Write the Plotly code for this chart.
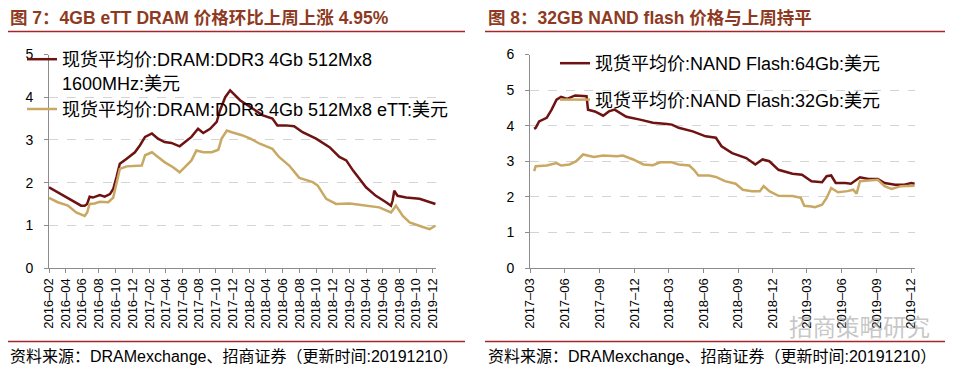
import plotly.graph_objects as go

# ---------------- data: Figure 7 (DRAM) ----------------
dram_1600_dates = ["2016-02-01","2016-03-04","2016-03-28","2016-05-04","2016-05-28","2016-06-10",
    "2016-06-19","2016-06-28","2016-07-10","2016-08-04","2016-08-22","2016-09-10","2016-09-22",
    "2016-10-04","2016-10-16","2016-11-10","2016-12-10","2016-12-28","2017-01-16","2017-02-10",
    "2017-03-04","2017-03-28","2017-04-22","2017-05-22","2017-06-10","2017-07-04","2017-07-28",
    "2017-08-16","2017-09-10","2017-10-04","2017-10-16","2017-11-04","2017-11-22","2017-12-28",
    "2018-02-13","2018-03-19","2018-04-25","2018-05-13","2018-06-13","2018-07-13","2018-08-13",
    "2018-10-01","2018-11-19","2018-12-25","2019-01-19","2019-02-13","2019-04-01","2019-05-07",
    "2019-06-13","2019-07-01","2019-07-07","2019-07-13","2019-07-25","2019-08-25","2019-10-13",
    "2019-11-19","2019-12-10"]
dram_1600_vals = [1.89,1.77,1.67,1.55,1.46,1.46,1.50,1.67,1.65,1.71,1.67,1.73,1.85,2.13,2.44,2.56,
    2.71,2.87,3.07,3.15,3.03,2.95,2.93,2.85,2.95,3.07,3.26,3.16,3.26,3.42,3.69,4.00,4.16,3.93,3.73,
    3.58,3.50,3.34,3.34,3.32,3.18,3.03,2.83,2.60,2.52,2.28,1.89,1.69,1.54,1.46,1.58,1.81,1.69,1.65,
    1.62,1.55,1.50]

dram_ett_dates = ["2016-02-01","2016-03-04","2016-04-10","2016-05-10","2016-06-10","2016-06-19",
    "2016-06-28","2016-07-16","2016-08-04","2016-09-04","2016-09-22","2016-10-04","2016-10-16",
    "2016-11-10","2016-12-10","2017-01-04","2017-01-16","2017-02-10","2017-03-04","2017-03-28",
    "2017-04-28","2017-05-22","2017-06-10","2017-07-04","2017-07-22","2017-08-16","2017-09-16",
    "2017-10-10","2017-10-22","2017-11-10","2017-11-28","2018-01-04","2018-02-04","2018-03-10",
    "2018-04-25","2018-05-19","2018-06-25","2018-08-01","2018-09-19","2018-10-07","2018-11-07",
    "2018-12-13","2019-02-01","2019-04-01","2019-05-19","2019-07-01","2019-07-19","2019-08-13",
    "2019-09-07","2019-10-25","2019-11-19","2019-12-10"]
dram_ett_vals = [1.64,1.54,1.46,1.30,1.22,1.30,1.50,1.51,1.55,1.54,1.65,1.97,2.32,2.38,2.40,2.40,
    2.64,2.71,2.60,2.48,2.36,2.24,2.36,2.52,2.75,2.71,2.71,2.77,3.03,3.22,3.18,3.11,3.03,2.91,2.79,
    2.60,2.40,2.11,2.01,1.93,1.62,1.50,1.51,1.47,1.42,1.30,1.46,1.22,1.07,0.96,0.91,0.99]

# ---------------- data: Figure 8 (NAND) ----------------
nand64_dates = ["2017-03-12","2017-03-16","2017-03-25","2017-04-14","2017-04-27","2017-05-10",
    "2017-05-22","2017-06-07","2017-06-28","2017-07-28","2017-08-01","2017-08-19","2017-09-10",
    "2017-09-25","2017-10-10","2017-11-10","2017-12-16","2018-01-19","2018-02-25","2018-03-10",
    "2018-03-28","2018-05-04","2018-06-07","2018-07-04","2018-07-19","2018-08-16","2018-09-22",
    "2018-10-16","2018-11-04","2018-11-22","2018-12-16","2019-01-22","2019-02-16","2019-03-13",
    "2019-04-10","2019-04-22","2019-05-04","2019-05-16","2019-06-10","2019-06-25","2019-07-19",
    "2019-08-10","2019-09-04","2019-09-22","2019-10-19","2019-11-13","2019-12-01","2019-12-10"]
nand64_vals = [3.91,3.94,4.12,4.22,4.45,4.73,4.81,4.75,4.85,4.83,4.45,4.40,4.28,4.40,4.45,4.25,
    4.17,4.08,4.05,4.03,3.94,3.84,3.70,3.66,3.42,3.23,3.09,2.91,3.05,3.00,2.76,2.65,2.62,2.44,2.41,
    2.58,2.60,2.39,2.39,2.37,2.55,2.50,2.50,2.39,2.34,2.34,2.39,2.37]

nand32_dates = ["2017-03-12","2017-03-16","2017-04-14","2017-05-10","2017-05-22","2017-06-13",
    "2017-07-01","2017-07-19","2017-08-16","2017-09-10","2017-10-16","2017-11-01","2017-11-28",
    "2017-12-25","2018-01-19","2018-02-07","2018-03-10","2018-03-28","2018-04-25","2018-05-07",
    "2018-05-19","2018-06-16","2018-07-04","2018-07-28","2018-08-25","2018-09-13","2018-10-07",
    "2018-10-28","2018-11-07","2018-11-22","2018-12-16","2019-01-22","2019-02-13","2019-02-22",
    "2019-03-13","2019-03-22","2019-04-10","2019-04-22","2019-05-04","2019-05-22","2019-06-16",
    "2019-07-01","2019-07-10","2019-07-19","2019-08-10","2019-09-04","2019-09-22","2019-10-10",
    "2019-11-04","2019-12-01","2019-12-10"]
nand32_vals = [2.72,2.86,2.88,2.95,2.88,2.91,3.00,3.19,3.12,3.16,3.14,3.16,3.05,2.91,2.89,2.97,
    2.97,2.91,2.88,2.76,2.60,2.60,2.56,2.44,2.37,2.20,2.16,2.16,2.30,2.16,2.03,2.02,1.97,1.75,1.73,
    1.71,1.78,1.97,2.25,2.13,2.16,2.20,2.09,2.44,2.46,2.48,2.30,2.22,2.30,2.31,2.31]

name_1600 = "现货平均价:DRAM:DDR3 4Gb 512Mx8<br>1600MHz:美元"
name_ett = "现货平均价:DRAM:DDR3 4Gb 512Mx8 eTT:美元"
name_64 = "现货平均价:NAND Flash:64Gb:美元"
name_32 = "现货平均价:NAND Flash:32Gb:美元"

title_left = "图 7：4GB eTT DRAM 价格环比上周上涨 4.95%"
title_right = "图 8：32GB NAND flash 价格与上周持平"
source_text = "资料来源：DRAMexchange、招商证券（更新时间:20191210）"
watermark = "招商策略研究"

DARK = "#6e1212"
TAN = "#c8a862"
FONT = "Liberation Sans, Arial, Noto Sans CJK SC, sans-serif"
W, H = 962, 372
OFF = 8  # default page body margin

fig = go.Figure()
fig.add_trace(go.Scatter(x=dram_1600_dates, y=dram_1600_vals, name=name_1600, mode="lines",
                         line=dict(color=DARK, width=2.5), xaxis="x", yaxis="y", legend="legend"))
fig.add_trace(go.Scatter(x=dram_ett_dates, y=dram_ett_vals, name=name_ett, mode="lines",
                         line=dict(color=TAN, width=2.5), xaxis="x", yaxis="y", legend="legend"))
fig.add_trace(go.Scatter(x=nand64_dates, y=nand64_vals, name=name_64, mode="lines",
                         line=dict(color=DARK, width=2.5), xaxis="x2", yaxis="y2", legend="legend2",
                         legendgroup="a"))
fig.add_trace(go.Scatter(x=nand32_dates, y=nand32_vals, name=name_32, mode="lines",
                         line=dict(color=TAN, width=2.5), xaxis="x2", yaxis="y2", legend="legend2",
                         legendgroup="b"))

def px(x):
    return (x - OFF) / W

def py(y):
    return 1 - (y - OFF) / H

ydom = [py(268), py(54.5)]
axis_common = dict(showline=True, linecolor="#8c8c8c", linewidth=1, ticks="outside",
                   ticklen=4, tickcolor="#8c8c8c", zeroline=False)

fig.update_layout(
    width=W, height=H, margin=dict(l=0, r=0, t=0, b=0, autoexpand=False),
    paper_bgcolor="white", plot_bgcolor="white",
    font=dict(family=FONT, color="black"),
    xaxis=dict(domain=[px(49), px(436)], type="date", range=["2016-02-01", "2019-12-12"],
               tick0="2016-02-01", dtick="M2", tickformat="%Y–%m", tickangle=-90,
               tickfont=dict(size=13), showgrid=False, anchor="y", **axis_common),
    yaxis=dict(domain=ydom, range=[0, 5], dtick=1, tickfont=dict(size=14), showgrid=True,
               gridcolor="#d4d4d4", griddash="dash", anchor="x", ticklabelstandoff=8,
               **axis_common),
    xaxis2=dict(domain=[px(530), px(915)], type="date", range=["2017-03-01", "2019-12-11"],
                tick0="2017-03-01", dtick="M3", tickformat="%Y–%m", tickangle=-90,
                tickfont=dict(size=13), showgrid=False, anchor="y2", **axis_common),
    yaxis2=dict(domain=ydom, range=[0, 6], dtick=1, tickfont=dict(size=14), showgrid=True,
                gridcolor="#d4d4d4", griddash="dash", anchor="x2", ticklabelstandoff=8,
                **axis_common),
    legend=dict(x=px(22), y=py(41), xanchor="left", yanchor="top", bgcolor="rgba(0,0,0,0)",
                font=dict(size=18, family=FONT), tracegroupgap=0, itemwidth=30, valign="top"),
    legend2=dict(x=px(555), y=py(45), xanchor="left", yanchor="top", bgcolor="rgba(0,0,0,0)",
                 font=dict(size=18, family=FONT), tracegroupgap=10, itemwidth=30),
    showlegend=True,
)

RED = "#a3262a"
TITLE_C = "#8e3a22"
shapes = []
for x0, x1 in [(8, 465), (485, 945)]:
    shapes.append(dict(type="line", xref="paper", yref="paper", x0=px(x0), x1=px(x1),
                       y0=py(31.5), y1=py(31.5), line=dict(color=RED, width=1.5)))
    shapes.append(dict(type="line", xref="paper", yref="paper", x0=px(x0), x1=px(x1),
                       y0=py(341.5), y1=py(341.5), line=dict(color=RED, width=1.5)))
fig.update_layout(shapes=shapes)

ann = []
ann.append(dict(text="<b>" + title_left + "</b>", x=px(8), y=py(18), xref="paper", yref="paper",
                xanchor="left", yanchor="middle", showarrow=False,
                font=dict(size=17.5, color=TITLE_C, family=FONT)))
ann.append(dict(text="<b>" + title_right + "</b>", x=px(486), y=py(18), xref="paper", yref="paper",
                xanchor="left", yanchor="middle", showarrow=False,
                font=dict(size=17.5, color=TITLE_C, family=FONT)))
ann.append(dict(text=watermark, x=px(787), y=py(326), xref="paper", yref="paper",
                xanchor="left", yanchor="middle", showarrow=False,
                font=dict(size=23.5, color="rgba(150,150,150,0.55)", family="Noto Sans CJK SC")))
for x0 in [8, 486]:
    ann.append(dict(text=source_text, x=px(x0), y=py(356), xref="paper", yref="paper",
                    xanchor="left", yanchor="middle", showarrow=False,
                    font=dict(size=16, color="black", family=FONT)))
fig.update_layout(annotations=ann)

fig.write_html("out.html")
